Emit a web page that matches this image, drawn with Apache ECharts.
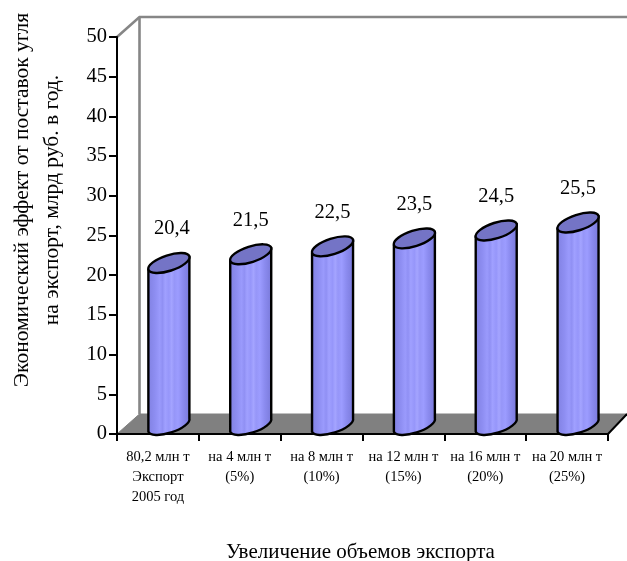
<!DOCTYPE html>
<html><head><meta charset="utf-8">
<script src="https://cdn.jsdelivr.net/npm/echarts@6/dist/echarts.min.js"></script>
<style>html,body{margin:0;padding:0;background:#fff}#c{width:627px;height:561px}</style></head>
<body><div id="c"></div>
<script>
const categories = ["80,2 млн т\nЭкспорт\n2005 год","на 4 млн т\n(5%)","на 8 млн т\n(10%)","на 12 млн т\n(15%)","на 16 млн т\n(20%)","на 20 млн т\n(25%)"];
const values = [20.4,21.5,22.5,23.5,24.5,25.5];
const valueLabels = ["20,4","21,5","22,5","23,5","24,5","25,5"];
const yTitle = "Экономический эффект от поставок угля\nна экспорт, млрд руб. в год.";
const xTitle = "Увеличение объемов экспорта";
const font = '"Liberation Serif","Times New Roman",serif';
const stripes = [[0,'#7a7ad8'],[.08,'#8484e6'],[.2,'#8e8ef2'],[.3,'#9a9afc'],[.36,'#9090f4'],[.42,'#a0a0ff'],[.5,'#9696fa'],[.56,'#a4a4ff'],[.62,'#9696f8'],[.7,'#9c9cff'],[.8,'#8c8cf0'],[.9,'#8080e2'],[1,'#7474d0']];
const chart = echarts.init(document.getElementById('c'), null, {renderer:'canvas'});
function cylinder(params, api){
  const i = api.value(0), v = api.value(1);
  const top = api.coord([i, v]), base = api.coord([i, 0]);
  const band = api.size([1,0])[0];
  const cx = base[0] + band*0.134, rx = 20.5, dy = 6.6, lift = 9;
  const tc = top[1]-lift, bc = base[1]-lift;
  const L = cx-rx, R = cx+rx;
  const body = `M${L} ${tc+dy} L${L} ${bc+dy} A21.5 7.8 -18 0 0 ${R} ${bc-dy} L${R} ${tc-dy} Z`;
  const cap = `M${L} ${tc+dy} A21.5 7.8 -18 0 1 ${R} ${tc-dy} A21.5 7.8 -18 0 1 ${L} ${tc+dy} Z`;
  return {type:'group',children:[
    {type:'path',shape:{pathData:body},style:{fill:{type:'linear',x:0,y:0,x2:1,y2:0,colorStops:stripes.map(s=>({offset:s[0],color:s[1]}))},stroke:'#000',lineWidth:2.4,lineJoin:'round'}},
    {type:'path',shape:{pathData:cap},style:{fill:'#7474c6',stroke:'#000',lineWidth:2.4}},
    {type:'text',x:cx+(i===0?3:0),y:tc-34,style:{text:valueLabels[i],fill:'#000',font:'20.5px '+font,align:'center',verticalAlign:'middle'}}
  ]};
}
chart.setOption({
  animation:false,
  backgroundColor:'#fff',
  grid:{left:117,top:37,width:491,height:397,outerBoundsMode:'none'},
  graphic:[
    {type:'polygon',z:-1,shape:{points:[[117,434],[139.5,414],[627,414],[608,434]]},style:{fill:'#808080',stroke:'#808080'}},
    {type:'polyline',z:-1,shape:{points:[[117,37],[139.5,17],[627,17]]},style:{fill:'none',stroke:'#868686',lineWidth:2.6}},
    {type:'line',z:-1,shape:{x1:139.5,y1:17,x2:139.5,y2:414},style:{stroke:'#868686',lineWidth:2.6}},
    {type:'line',z:-1,shape:{x1:608,y1:434,x2:627,y2:414},style:{stroke:'#000',lineWidth:2}},
    {type:'text',x:37.5,y:200,rotation:Math.PI/2,style:{text:yTitle,fill:'#000',font:'21.5px '+font,align:'center',verticalAlign:'middle',lineHeight:30}}
  ],
  xAxis:{type:'category',data:categories,boundaryGap:true,name:xTitle,nameLocation:'middle',nameGap:108,
    nameTextStyle:{fontFamily:font,fontSize:21,color:'#000',padding:[0,4,0,0]},
    axisLine:{lineStyle:{color:'#000',width:2}},
    axisTick:{show:true,alignWithLabel:false,length:7,lineStyle:{color:'#000',width:2}},
    axisLabel:{interval:0,fontFamily:font,fontSize:14.5,color:'#000',lineHeight:20,margin:13}},
  yAxis:{type:'value',min:0,max:50,interval:5,
    axisLine:{show:true,lineStyle:{color:'#000',width:2}},
    axisTick:{show:true,length:8,lineStyle:{color:'#000',width:2}},
    splitLine:{show:false},
    axisLabel:{fontFamily:font,fontSize:20.5,color:'#000',margin:10}},
  series:[{type:'custom',coordinateSystem:'cartesian2d',clip:false,renderItem:cylinder,data:values.map((v,i)=>[i,v]),encode:{x:0,y:1}}]
});
</script></body></html>
